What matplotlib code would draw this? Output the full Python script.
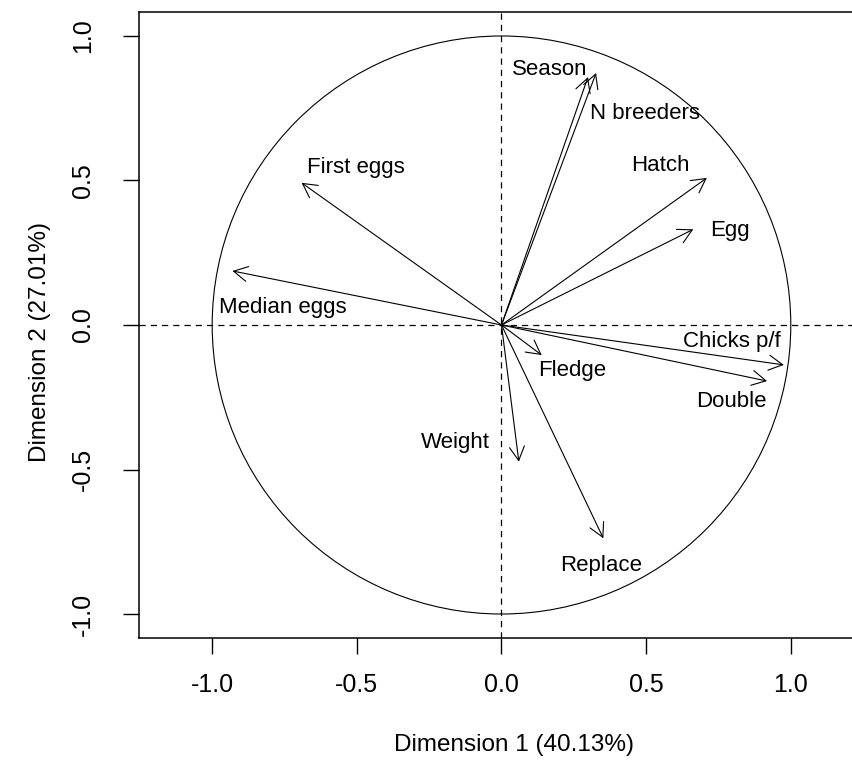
import matplotlib
matplotlib.use('Agg')
import matplotlib.pyplot as plt
from matplotlib.patches import Circle

plt.rcParams['font.family'] = ['Liberation Sans', 'DejaVu Sans']

# variable coordinates on the first two dimensions
variables = ['Season', 'N breeders', 'Hatch', 'Egg', 'Chicks p/f', 'Double',
             'Fledge', 'Weight', 'Replace', 'First eggs', 'Median eggs']
dim1 = [0.299, 0.327, 0.710, 0.663, 0.976, 0.918, 0.139, 0.060, 0.352, -0.691, -0.930]
dim2 = [0.858, 0.872, 0.509, 0.331, -0.138, -0.194, -0.104, -0.473, -0.738, 0.492, 0.187]

# where each name is written (centre x, baseline y)
label_x = [0.168, 0.496, 0.548, 0.790, 0.798, 0.796, 0.244, -0.161, 0.343, -0.504, -0.756]
label_y = [0.865, 0.712, 0.534, 0.308, -0.075, -0.283, -0.176, -0.426, -0.851, 0.525, 0.040]

ticks = [-1.0, -0.5, 0.0, 0.5, 1.0]
tick_labels = ['-1.0', '-0.5', '0.0', '0.5', '1.0']

fig = plt.figure(figsize=(8.53, 7.69), dpi=100)
ax = fig.add_axes([139 / 853, 131 / 769, (866 - 139) / 853, 626 / 769])
ax.set_xlim(-1.253, 1.26)
ax.set_ylim(-1.083, 1.083)

# correlation circle and axes through the origin
ax.add_patch(Circle((0, 0), 1.0, fill=False, color='black', lw=0.8))
ax.axhline(0, color='black', ls=(0, (5, 4)), lw=0.9)
ax.axvline(0, color='black', ls=(0, (5, 4)), lw=0.9)

for name, x, y, lx, ly in zip(variables, dim1, dim2, label_x, label_y):
    ax.annotate('', xy=(x, y), xytext=(0, 0),
                arrowprops=dict(arrowstyle='->,head_length=0.5,head_width=0.27',
                                mutation_scale=20, lw=0.8, color='black',
                                shrinkA=0, shrinkB=0))
    ax.text(lx, ly, name, ha='center', va='baseline', fontsize=16)

ax.set_xticks(ticks)
ax.set_xticklabels(tick_labels)
ax.set_yticks(ticks)
ax.set_yticklabels(tick_labels, rotation=90, va='center')
ax.tick_params(length=11.5, width=1.0, labelsize=18)
ax.tick_params(axis='x', pad=14)
ax.tick_params(axis='y', pad=20)

for sp in ax.spines.values():
    sp.set_linewidth(1.1)

ax.set_xlabel('Dimension 1 (40.13%)', fontsize=17.5)
ax.set_ylabel('Dimension 2 (27.01%)', fontsize=17.5)
ax.xaxis.set_label_coords((514 - 139) / (866 - 139), -(745 - 638) / 626)
ax.yaxis.set_label_coords(-(139 - 40) / (866 - 139), (638 - 342) / 626)
ax.xaxis.label.set_va('center')
ax.yaxis.label.set_va('center')

fig.savefig('out.png', dpi=100)
